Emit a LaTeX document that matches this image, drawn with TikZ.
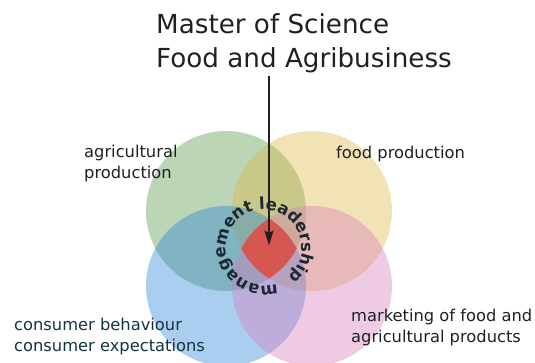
\documentclass[tikz,border=0pt]{standalone}
\usepackage{fontspec}
\setmainfont{DejaVu Sans}
\usetikzlibrary{arrows.meta, decorations.text}
\definecolor{agrigreen}{RGB}{84, 150, 71}
\definecolor{foodyellow}{RGB}{221, 184, 71}
\definecolor{consblue}{RGB}{40, 132, 214}
\definecolor{markpink}{RGB}{216, 123, 189}
\definecolor{corered}{RGB}{214, 86, 82}
\definecolor{inkdark}{RGB}{30, 32, 34}
\definecolor{inkteal}{RGB}{18, 52, 66}
\definecolor{inkring}{RGB}{28, 40, 50}

\begin{document}
\begin{tikzpicture}[x=1pt, y=1pt,
  field/.style={fill opacity=0.4},
  lbl/.style={anchor=base west, align=left, inner sep=0pt, text=inkdark, font=\fontsize{16.3}{20.5}\selectfont},
  arrowline/.style={draw=inkdark, line width=1.6pt, shorten >=3pt, -{Stealth[length=15pt, width=9pt, inset=2.5pt]}}
]
  \useasboundingbox (0,0) rectangle (535,362);
  \coordinate (agri) at (226,151);
  \coordinate (food) at (312,151);
  \coordinate (cons) at (226,76);
  \coordinate (mark) at (312,76);
  \coordinate (core) at (269,113.5);
  \coordinate (ring) at (264,114.5);
  \coordinate (stem) at (269,286);

  \fill[field, agrigreen] (agri) circle[radius=80];
  \fill[field, foodyellow] (food) circle[radius=80];
  \fill[field, consblue] (cons) circle[radius=80];
  \fill[field, markpink] (mark) circle[radius=80];
  % where all four fields meet
  \begin{scope}
    \clip (agri) circle[radius=80];
    \clip (food) circle[radius=80];
    \clip (cons) circle[radius=80];
    \fill[corered] (mark) circle[radius=80];
  \end{scope}

  \draw[arrowline] (stem) -- (core);
  \path[decorate, decoration={text along path,
      text={|\fontsize{16.5}{16.5}\selectfont\bfseries\color{inkring}|management leadership}}]
    (ring) ++(-70:38) arc[start angle=-70, end angle=-415, radius=38];

  \node[lbl, font=\fontsize{26.2}{34}\selectfont] (title) at (156,294) {Master of Science\\Food and Agribusiness};

  \node[lbl] (agrilbl) at (84,183.5) {agricultural\\production};
  \node[lbl] (foodlbl) at (336,204) {food production};
  \node[lbl, text=inkteal] (conslbl) at (14,11) {consumer behaviour\\consumer expectations};
  \node[lbl] (marklbl) at (351,20) {marketing of food and\\agricultural products};
\end{tikzpicture}
\end{document}
